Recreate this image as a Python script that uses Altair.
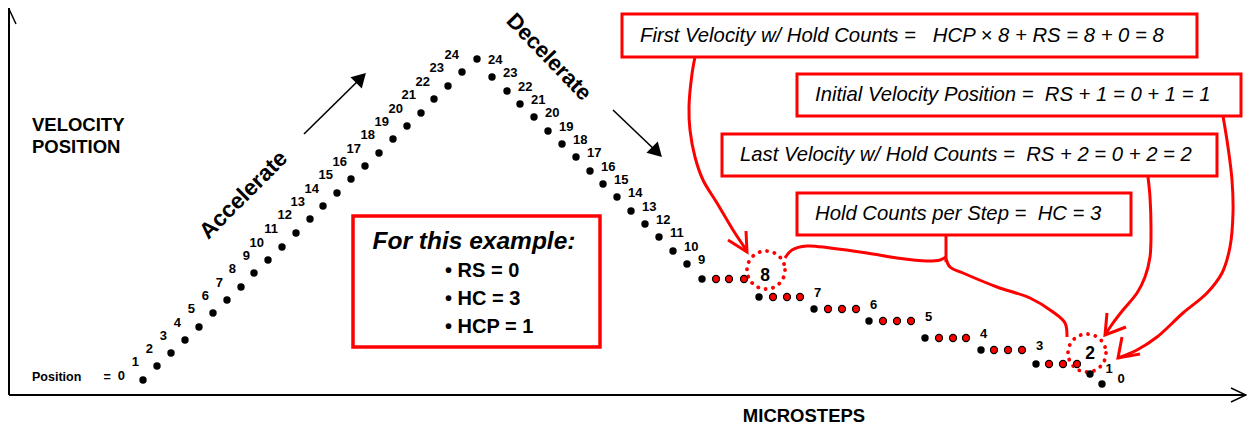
import altair as alt
import pandas as pd

FONT = "Liberation Sans"
RED = "#ff0000"

# ---------------- data (diagram coordinates) ----------------
# Acceleration ramp: velocity positions 0..24
accel_pos = list(range(0, 25))
accel_x = [143, 157, 171, 185, 199, 213, 227, 241, 254, 268, 282, 296, 310, 323, 337,
           351, 365, 379, 393, 407, 421, 434, 448, 462, 477]
accel_y = [380, 366, 353, 340, 327, 313, 300, 287, 273, 260, 247, 233, 219, 206, 193,
           179, 166, 153, 139, 126, 113, 99, 86, 72, 59]

# Deceleration ramp: velocity positions 23..9 (24 is the shared peak)
decel_pos = [23, 22, 21, 20, 19, 18, 17, 16, 15, 14, 13, 12, 11, 10, 9]
decel_x = [492, 507, 520, 534, 548, 562, 576, 590, 603, 617, 631, 645, 659, 673, 687]
decel_y = [77, 91, 104, 117, 131, 144, 157, 171, 184, 197, 211, 224, 237, 251, 264]

# Hold-count plateaus: velocity 8..2, one black step + three red hold counts each
hold_pos = [8, 7, 6, 5, 4, 3, 2]
hold_x = [702, 759, 814, 869, 925, 981, 1036]
hold_y = [279, 297, 309, 321, 338, 350, 364]
hold_red_x = [[716, 729, 744], [773, 787, 800], [828, 842, 856], [883, 897, 911],
              [939, 953, 966], [994, 1008, 1022], [1049, 1063, 1077]]

# Final steps: velocity 1 and 0
tail_pos = [1, 0]
tail_x = [1090, 1102]
tail_y = [374, 384]

# Highlighted values (dotted circles)
circ_label = ["8", "2"]
circ_label_x = [765, 1090]
circ_label_y = [276, 354]
circ_x = [766, 1087]
circ_y = [270, 353]

# Annotation boxes
box_text = [
    "First Velocity w/ Hold Counts = \u00a0\u00a0HCP \u00d7 8 + RS = 8 + 0 = 8",
    "Initial Velocity Position = \u00a0RS + 1 = 0 + 1 = 1",
    "Last Velocity w/ Hold Counts = \u00a0RS + 2 = 0 + 2 = 2",
    "Hold Counts per Step = \u00a0HC = 3",
]
box_left = [622, 797, 722, 797]
box_right = [1197, 1241, 1217, 1131]
box_top = [14, 74, 134, 193]
box_bottom = [57, 116, 176, 235]

example_title = "For this example:"
example_items = ["\u2022 RS = 0", "\u2022 HC = 3", "\u2022 HCP = 1"]

# Red connector curves
curves = {
    "first": [(695, 57), (692, 74), (689, 107), (690, 130), (695, 157), (703, 180),
              (717, 203), (733, 230), (747, 251)],
    "stem": [(946, 235), (946, 262)],
    "brace_l": [(946, 257), (940, 260), (927, 261), (897, 258), (867, 253), (830, 248),
                (807, 246), (792, 250), (785, 258)],
    "brace_r": [(946, 259), (950, 267), (963, 273), (997, 287), (1030, 298), (1053, 312),
                (1065, 323), (1067, 337)],
    "last": [(1148, 177), (1150, 197), (1151, 230), (1150, 257), (1145, 277), (1137, 293),
             (1123, 310), (1113, 323), (1105, 335)],
    "initial": [(1223, 116), (1228, 147), (1232, 180), (1233, 213), (1230, 247), (1222, 273),
                (1207, 293), (1183, 313), (1157, 337), (1137, 350), (1118, 358)],
}
heads = {
    "h_first": [(728, 240), (747, 252), (746, 231)],
    "h_last": [(1107, 313), (1105, 335), (1126, 327)],
    "h_initial": [(1122, 337), (1118, 358), (1140, 354)],
}

# Black direction arrows
arrow_lines = {"acc": [(304, 134), (362, 77)], "dec": [(613, 110), (657, 152)]}
arrow_head_x = [361, 657]
arrow_head_y = [78, 152]
arrow_head_angle = [45, 135]

# Axes
axes_lines = {
    "yaxis": [(9, 8), (9, 395)],
    "xaxis": [(9, 395), (1246, 395)],
}
axes_heads = {
    "yhead": [(2, 24), (9, 9), (16, 24)],
    "xhead": [(1231, 388), (1246, 395), (1231, 402)],
}

# ---------------- scales ----------------
X = lambda f="x": alt.X(f"{f}:Q", scale=alt.Scale(domain=[8, 1247], nice=False, zero=False), axis=None)
Y = lambda f="y": alt.Y(f"{f}:Q", scale=alt.Scale(domain=[8, 424], nice=False, zero=False, reverse=True), axis=None)


def paths_df(d):
    rows = []
    for k, pts in d.items():
        for i, (x, y) in enumerate(pts):
            rows.append({"path": k, "o": i, "x": x, "y": y})
    return pd.DataFrame(rows)


# dots
black = pd.DataFrame({
    "x": accel_x + decel_x + hold_x + tail_x,
    "y": accel_y + decel_y + hold_y + tail_y,
})
red_rows = []
for xs, y in zip(hold_red_x, hold_y):
    for x in xs:
        red_rows.append({"x": x, "y": y})
red = pd.DataFrame(red_rows)

# labels
lab_left = pd.DataFrame({"x": [x - 18 for x in accel_x], "y": [y - 4 for y in accel_y],
                         "t": [str(p) for p in accel_pos]})
lab_right = pd.DataFrame({"x": [accel_x[-1] + 11] + [x + 11 for x in decel_x],
                          "y": [accel_y[-1] + 1] + [y - 4.5 for y in decel_y],
                          "t": ["24"] + [str(p) for p in decel_pos]})
lab_center = pd.DataFrame({
    "x": [xs[-1] + 17.5 for xs in hold_red_x[1:6]] + [x + 19 for x in tail_x],
    "y": [y - 4 for y in hold_y[1:6]] + [y - 5 for y in tail_y],
    "t": [str(p) for p in hold_pos[1:6]] + [str(p) for p in tail_pos],
})

big = pd.DataFrame({"x": circ_label_x, "y": circ_label_y, "t": circ_label})
circ = pd.DataFrame({"x": circ_x, "y": circ_y})

boxes = pd.DataFrame({"x": box_left, "x2": box_right, "y": box_top, "y2": box_bottom,
                      "tx": [l + 18 for l in box_left],
                      "ty": [(t + b) / 2 for t, b in zip(box_top, box_bottom)],
                      "t": box_text})

ex_box = pd.DataFrame({"x": [353], "x2": [600], "y": [216], "y2": [347]})
ex_title = pd.DataFrame({"x": [474], "y": [242], "t": [example_title]})
ex_items = pd.DataFrame({"x": [445, 445, 445], "y": [271, 299, 327], "t": example_items})

# ---------------- layers ----------------
layers = []

# axes
layers.append(alt.Chart(paths_df(axes_lines)).mark_line(color="black", strokeWidth=2).encode(
    x=X(), y=Y(), detail="path:N", order="o:Q"))
layers.append(alt.Chart(paths_df(axes_heads)).mark_line(color="black", strokeWidth=1.5).encode(
    x=X(), y=Y(), detail="path:N", order="o:Q"))

# axis titles
layers.append(alt.Chart(pd.DataFrame({"x": [32, 32], "y": [125, 147], "t": ["VELOCITY", "POSITION"]}))
              .mark_text(align="left", baseline="middle", font=FONT, fontWeight="bold", fontSize=18.5, color="black")
              .encode(x=X(), y=Y(), text="t:N"))
layers.append(alt.Chart(pd.DataFrame({"x": [804], "y": [415.5], "t": ["MICROSTEPS"]}))
              .mark_text(align="center", baseline="middle", font=FONT, fontWeight="bold", fontSize=18.5, color="black")
              .encode(x=X(), y=Y(), text="t:N"))
layers.append(alt.Chart(pd.DataFrame({"x": [32, 103.5], "y": [377, 377], "t": ["Position", "="]}))
              .mark_text(align="left", baseline="middle", font=FONT, fontWeight="bold", fontSize=12.5, color="black")
              .encode(x=X(), y=Y(), text="t:N"))

# red curves and heads
layers.append(alt.Chart(paths_df(curves)).mark_line(color=RED, strokeWidth=3, interpolate="catmull-rom").encode(
    x=X(), y=Y(), detail="path:N", order="o:Q"))
layers.append(alt.Chart(paths_df(heads)).mark_line(color=RED, strokeWidth=3).encode(
    x=X(), y=Y(), detail="path:N", order="o:Q"))

# black arrows
layers.append(alt.Chart(paths_df(arrow_lines)).mark_line(color="black", strokeWidth=1.6).encode(
    x=X(), y=Y(), detail="path:N", order="o:Q"))
layers.append(alt.Chart(pd.DataFrame({"x": arrow_head_x, "y": arrow_head_y, "a": arrow_head_angle}))
              .mark_point(shape="triangle-up", filled=True, color="black", size=256, opacity=1)
              .encode(x=X(), y=Y(), angle=alt.Angle("a:Q", scale=None)))

# rotated words
layers.append(alt.Chart(pd.DataFrame({"x": [243.5], "y": [195], "t": ["Accelerate"]}))
              .mark_text(align="center", baseline="middle", angle=315, font=FONT, fontWeight="bold", fontSize=22.5, color="black")
              .encode(x=X(), y=Y(), text="t:N"))
layers.append(alt.Chart(pd.DataFrame({"x": [549], "y": [57], "t": ["Decelerate"]}))
              .mark_text(align="center", baseline="middle", angle=46, font=FONT, fontWeight="bold", fontSize=22, color="black")
              .encode(x=X(), y=Y(), text="t:N"))

# boxes
layers.append(alt.Chart(boxes).mark_rect(fill="white", stroke=RED, strokeWidth=3).encode(
    x=X(), x2="x2:Q", y=Y(), y2="y2:Q"))
layers.append(alt.Chart(boxes).mark_text(align="left", baseline="middle", font=FONT, fontStyle="italic",
                                         fontSize=20.3, color="black")
              .encode(x=X("tx"), y=Y("ty"), text="t:N"))

layers.append(alt.Chart(ex_box).mark_rect(fill="white", stroke=RED, strokeWidth=3.5).encode(
    x=X(), x2="x2:Q", y=Y(), y2="y2:Q"))
layers.append(alt.Chart(ex_title).mark_text(align="center", baseline="middle", font=FONT, fontStyle="italic",
                                            fontWeight="bold", fontSize=24.5, color="black")
              .encode(x=X(), y=Y(), text="t:N"))
layers.append(alt.Chart(ex_items).mark_text(align="left", baseline="middle", font=FONT,
                                            fontWeight="bold", fontSize=20, color="black")
              .encode(x=X(), y=Y(), text="t:N"))

# dotted highlight circles
layers.append(alt.Chart(circ).mark_point(shape="circle", filled=False, stroke=RED, strokeWidth=3.8,
                                         strokeDash=[0.1, 7.4], strokeCap="round", size=1444, opacity=1)
              .encode(x=X(), y=Y()))

# dots
layers.append(alt.Chart(black).mark_circle(color="black", size=55, opacity=1).encode(x=X(), y=Y()))
layers.append(alt.Chart(red).mark_circle(fill=RED, stroke="black", strokeWidth=1.2, size=50, opacity=1)
              .encode(x=X(), y=Y()))

# numeric labels
lab_style = dict(baseline="middle", font=FONT, fontWeight="bold", fontSize=13, color="black")
layers.append(alt.Chart(lab_left).mark_text(align="right", **lab_style).encode(x=X(), y=Y(), text="t:N"))
layers.append(alt.Chart(lab_right).mark_text(align="left", **lab_style).encode(x=X(), y=Y(), text="t:N"))
layers.append(alt.Chart(lab_center).mark_text(align="center", **lab_style).encode(x=X(), y=Y(), text="t:N"))
layers.append(alt.Chart(big).mark_text(align="center", baseline="middle", font=FONT, fontWeight="bold",
                                       fontSize=17.5, color="black")
              .encode(x=X(), y=Y(), text="t:N"))

chart = alt.layer(*layers).properties(
    width=1239, height=416, padding=0, autosize=alt.AutoSizeParams(type="none"),
    background="white",
).configure_view(stroke=None)

chart.save("out.html", embed_options={"renderer": "svg", "actions": False})
